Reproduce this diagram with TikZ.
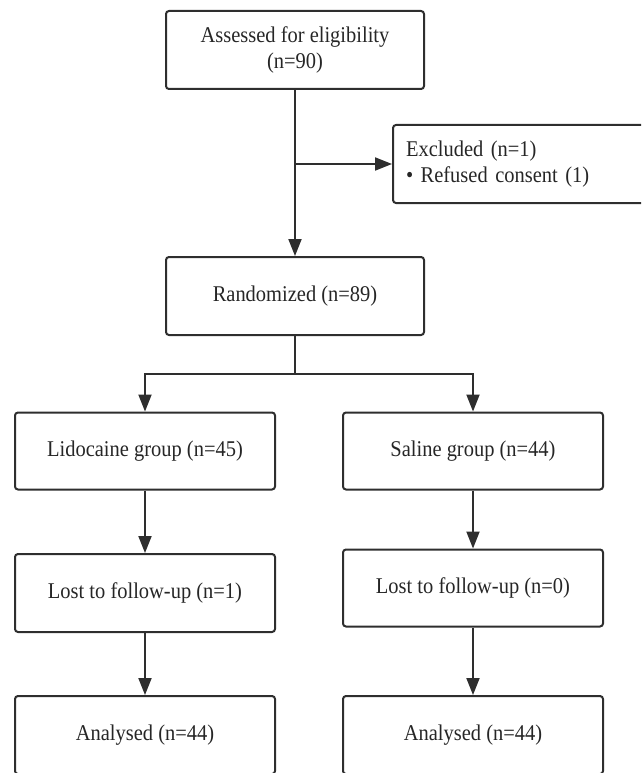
\documentclass[tikz,border=0pt]{standalone}
\usepackage{fontspec}
\setmainfont{Liberation Serif}[FakeStretch=0.91]
\usetikzlibrary{arrows.meta,calc}
\definecolor{ink}{HTML}{2E2E2E}
\definecolor{txt}{HTML}{262626}
\tikzset{
  box/.style={draw=ink, line width=2pt, rounded corners=3pt, text=txt,
    minimum height=78pt, inner sep=0pt, align=center,
    font=\fontsize{22.5}{26}\selectfont},
  arr/.style={draw=ink, line width=2pt, -{Triangle[length=17pt,width=13pt]}},
  ln/.style={draw=ink, line width=2pt}
}
\begin{document}
\begin{tikzpicture}[x=1pt,y=-1pt]
\useasboundingbox (0,0) rectangle (641,773);
\clip (0,0) rectangle (641,773);
\node[box, minimum width=258pt] (assess) at (295,50) {Assessed for eligibility\\(n=90)};
\node[box, minimum width=280pt, text width=254pt, align=left, anchor=west] (excl) at (392,164)
  {Excluded (n=1)\\\textbullet\ Refused consent (1)};
\node[box, minimum width=258pt] (rand) at (295,296) {Randomized (n=89)};
\node[box, minimum width=260pt, minimum height=77pt] (lido) at (145,451) {Lidocaine group (n=45)};
\node[box, minimum width=260pt, minimum height=77pt] (sal) at (473,451) {Saline group (n=44)};
\node[box, minimum width=260pt] (lost1) at (145,593) {Lost to follow-up (n=1)};
\node[box, minimum width=260pt, minimum height=77pt] (lost0) at (473,588) {Lost to follow-up (n=0)};
\node[box, minimum width=260pt] (anal1) at (145,735) {Analysed (n=44)};
\node[box, minimum width=260pt] (anal2) at (473,735) {Analysed (n=44)};
\coordinate (split) at ($(rand.south)+(0,38)$);
\draw[arr] (assess.south) -- (rand.north);
\draw[arr] (assess.south |- excl.west) -- (excl.west);
\draw[ln] (rand.south) -- (split);
\draw[arr] (split) -| (lido.north);
\draw[arr] (split) -| (sal.north);
\draw[arr] (lido.south) -- (lost1.north);
\draw[arr] (sal.south) -- (lost0.north);
\draw[arr] (lost1.south) -- (anal1.north);
\draw[arr] (lost0.south) -- (anal2.north);
\end{tikzpicture}
\end{document}
